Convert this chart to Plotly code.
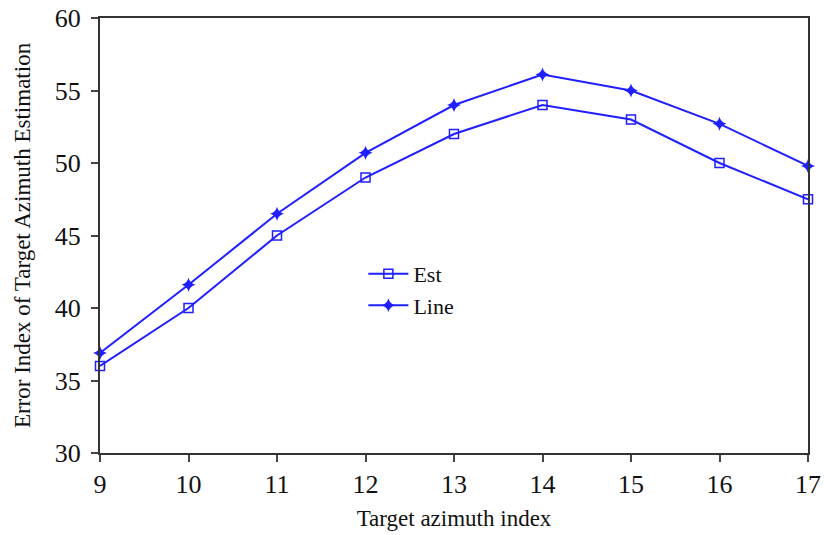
import plotly.graph_objects as go

x_idx = [9, 10, 11, 12, 13, 14, 15, 16, 17]
est = [36.0, 40.0, 45.0, 49.0, 52.0, 54.0, 53.0, 50.0, 47.5]
line = [36.9, 41.6, 46.5, 50.7, 54.0, 56.1, 55.0, 52.7, 49.8]

blue = "#1f1fff"
font_family = "Liberation Serif, Times New Roman, serif"

fig = go.Figure()
fig.add_trace(go.Scatter(x=x_idx, y=est, name="Est", mode="lines+markers", cliponaxis=False,
                         line=dict(color=blue, width=2),
                         marker=dict(symbol="square-open", size=9, color=blue, line=dict(width=1.5, color=blue))))
fig.add_trace(go.Scatter(x=x_idx, y=line, name="Line", mode="lines+markers", cliponaxis=False,
                         line=dict(color=blue, width=2),
                         marker=dict(symbol="star-diamond", size=10, color=blue)))

fig.update_layout(
    width=824, height=535,
    margin=dict(l=100, r=16, t=18, b=82, autoexpand=False),
    paper_bgcolor="white", plot_bgcolor="white",
    font=dict(family=font_family, color="#111"),
    showlegend=True,
    legend=dict(x=0.372, y=0.46, xanchor="left", yanchor="top",
                bgcolor="rgba(0,0,0,0)", font=dict(size=22, family=font_family),
                tracegroupgap=0, itemwidth=40),
    xaxis=dict(range=[9, 17], tickvals=x_idx, ticks="outside", ticklen=7, tickwidth=1.5,
               showline=True, linecolor="#333", linewidth=2, mirror=True, showgrid=False,
               zeroline=False, tickfont=dict(size=26), automargin=False, ticklabeloverflow="allow",
               title=dict(text="Target azimuth index", font=dict(size=23), standoff=12)),
    yaxis=dict(range=[30, 60], tickvals=[30, 35, 40, 45, 50, 55, 60], ticks="outside", ticklen=7,
               tickwidth=1.5, showline=True, linecolor="#333", linewidth=2, mirror=True,
               showgrid=False, zeroline=False, tickfont=dict(size=26), automargin=False,
               ticklabeloverflow="allow", ticklabelstandoff=5,
               title=dict(text="Error Index of Target Azimuth Estimation", font=dict(size=23), standoff=18)),
)

fig.write_html("out.html", config={"displayModeBar": False},
               post_script="document.body.style.margin='0';")
